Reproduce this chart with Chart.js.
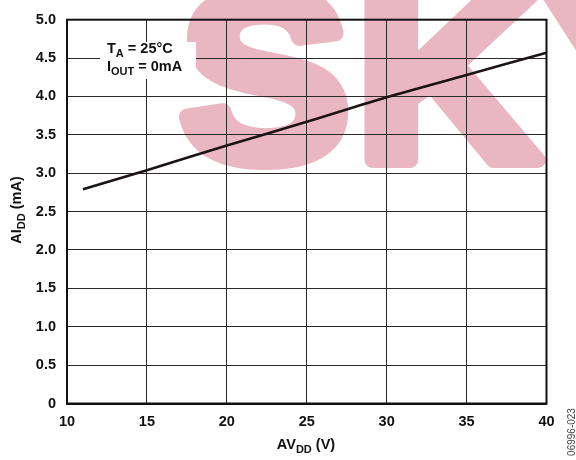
<!DOCTYPE html>
<html>
<head>
<meta charset="utf-8">
<script src="https://cdn.jsdelivr.net/npm/chart.js@4/dist/chart.umd.min.js"></script>
<style>
  html, body { margin: 0; padding: 0; background: #fff; }
  canvas { display: block; }
</style>
</head>
<body>
<canvas id="chart" width="576" height="460"></canvas>
<script>
// supply voltage (V) and supply current (mA)
const avdd = [11, 15, 20, 25, 30, 35, 40];
const aidd = [2.79, 3.04, 3.36, 3.67, 3.99, 4.28, 4.57];
const xTicks = [10, 15, 20, 25, 30, 35, 40];
const yTicks = [0, 0.5, 1.0, 1.5, 2.0, 2.5, 3.0, 3.5, 4.0, 4.5, 5.0];

const FONT = '"Liberation Sans", Arial, sans-serif';

// draws text runs where some parts are subscripts
function drawRuns(ctx, runs, x, y, size, align) {
    const subSize = Math.round(size * 0.75);
    let total = 0;
    runs.forEach(r => {
        ctx.font = 'bold ' + (r.sub ? subSize : size) + 'px ' + FONT;
        r.w = ctx.measureText(r.t).width;
        total += r.w;
    });
    let cx = align === 'center' ? x - total / 2 : x;
    ctx.textAlign = 'left';
    ctx.textBaseline = 'alphabetic';
    runs.forEach(r => {
        ctx.font = 'bold ' + (r.sub ? subSize : size) + 'px ' + FONT;
        ctx.fillText(r.t, cx, r.sub ? y + 4 : y);
        cx += r.w;
    });
}

const decor = {
    id: 'decor',
    beforeDraw(chart) {
        const ctx = chart.ctx;
        ctx.save();
        ctx.fillStyle = '#fff';
        ctx.fillRect(0, 0, chart.width, chart.height);
        // pale watermark behind the plot
        ctx.fillStyle = '#e9b6c2';
        ctx.strokeStyle = '#e9b6c2';
        ctx.lineWidth = 16;
        ctx.lineJoin = 'round';
        ctx.font = 'bold 240px ' + FONT;
        ctx.textBaseline = 'alphabetic';
        ctx.translate(180, 160);
        ctx.scale(1.06, 1);
        ctx.letterSpacing = '6px';
        ctx.fillText('SKY', 0, 0);
        ctx.strokeText('SKY', 0, 0);
        ctx.restore();
    },
    afterDatasetsDraw(chart) {
        const ctx = chart.ctx;
        const a = chart.chartArea;
        ctx.save();
        ctx.strokeStyle = '#111';
        ctx.lineWidth = 2;
        ctx.strokeRect(a.left, a.top, a.right - a.left, a.bottom - a.top);

        // condition note
        ctx.fillStyle = '#fff';
        ctx.fillRect(100, 42, 96, 37);
        ctx.fillStyle = '#111';
        drawRuns(ctx, [{t: 'T'}, {t: 'A', sub: true}, {t: ' = 25°C'}], 107, 53, 14.5);
        drawRuns(ctx, [{t: 'I'}, {t: 'OUT', sub: true}, {t: ' = 0mA'}], 107, 71, 14.5);

        // axis titles
        drawRuns(ctx, [{t: 'AV'}, {t: 'DD', sub: true}, {t: ' (V)'}], 306, 449, 14.5, 'center');
        ctx.save();
        ctx.translate(21, 210);
        ctx.rotate(-Math.PI / 2);
        drawRuns(ctx, [{t: 'AI'}, {t: 'DD', sub: true}, {t: ' (mA)'}], 0, 0, 14.5, 'center');
        ctx.restore();

        // figure code
        ctx.translate(572, 432);
        ctx.rotate(-Math.PI / 2);
        ctx.fillStyle = '#444';
        ctx.font = '10px ' + FONT;
        ctx.textAlign = 'center';
        ctx.textBaseline = 'middle';
        ctx.fillText('06996-023', 0, 0);
        ctx.restore();
    }
};

new Chart(document.getElementById('chart'), {
    type: 'line',
    data: {
        datasets: [{
            data: avdd.map((v, i) => ({x: v, y: aidd[i]})),
            borderColor: '#1c1414',
            borderWidth: 2.6,
            pointRadius: 0,
            tension: 0.3,
            fill: false
        }]
    },
    options: {
        responsive: false,
        animation: false,
        layout: { padding: { left: 0, right: 29.5, top: 19.5, bottom: 0 } },
        plugins: { legend: { display: false }, tooltip: { enabled: false } },
        scales: {
            x: {
                type: 'linear',
                min: 10,
                max: 40,
                afterFit: s => { s.height = 56.5; },
                afterBuildTicks: s => { s.ticks = xTicks.map(v => ({value: v})); },
                grid: { color: '#2a2a2a', lineWidth: 1, drawTicks: false },
                border: { color: '#111', width: 2 },
                ticks: {
                    padding: 10,
                    color: '#111',
                    font: { family: FONT, size: 14.5, weight: 'bold' }
                }
            },
            y: {
                min: 0,
                max: 5,
                afterFit: s => { s.width = 67; },
                afterBuildTicks: s => { s.ticks = yTicks.map(v => ({value: v})); },
                grid: { color: '#2a2a2a', lineWidth: 1, drawTicks: false },
                border: { color: '#111', width: 2 },
                ticks: {
                    padding: 11,
                    color: '#111',
                    font: { family: FONT, size: 14.5, weight: 'bold' },
                    callback: v => v === 0 ? '0' : v.toFixed(1)
                }
            }
        }
    },
    plugins: [decor]
});
</script>
</body>
</html>
